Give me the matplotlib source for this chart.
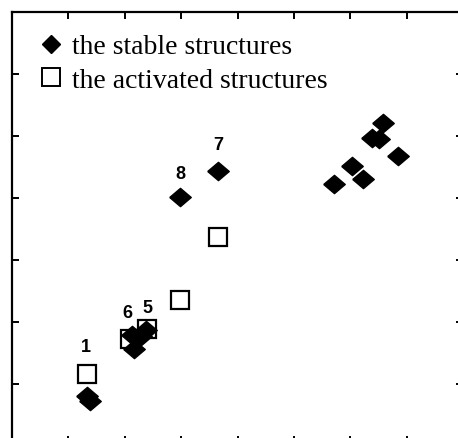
import matplotlib.pyplot as plt
from matplotlib.lines import Line2D

# stable structures (filled diamonds)
stable_x = [3.65, 2.98, 6.58, 6.38, 6.51, 6.84, 6.03, 6.22, 5.71, 1.33, 1.38, 2.13, 2.16, 2.38, 2.29]
stable_y = [5.44, 5.02, 6.21, 5.97, 5.95, 5.68, 5.52, 5.31, 5.23, 1.81, 1.73, 2.79, 2.56, 2.87, 2.77]

# activated structures (open squares)
act_x = [1.33, 2.09, 2.39, 2.98, 3.65]
act_y = [2.16, 2.73, 2.89, 3.35, 4.37]

# point labels
lab_text = ["1", "6", "5", "8", "7"]
lab_x = [1.31, 2.04, 2.41, 2.98, 3.65]
lab_y = [2.60, 3.16, 3.24, 5.39, 5.87]

fig = plt.figure(figsize=(4.58, 4.39), dpi=100)
W, H = 458.0, 439.0
# axes runs past the right and bottom edge of the picture (cropped chart)
ax = fig.add_axes([12 / W, (H - 444) / H, (463 - 12) / W, (444 - 13) / H])

diamond = [(-1, 0), (0, 0.85), (1, 0), (0, -0.85), (-1, 0)]
ax.plot(act_x, act_y, ls="", marker="s", ms=13, mfc="white", mec="black", mew=1.6, zorder=2)
ax.plot(stable_x, stable_y, ls="", marker=diamond, ms=15.5, color="black", zorder=3)

for t, x, y in zip(lab_text, lab_x, lab_y):
    ax.text(x, y, t, ha="center", va="center", fontsize=13, fontweight="bold",
            family="Liberation Sans")

ax.set_xlim(0, 8)
ax.set_ylim(1.05, 8)
ax.set_xticks([1, 2, 3, 4, 5, 6, 7])
ax.set_yticks([2, 3, 4, 5, 6, 7])
ax.tick_params(direction="in", length=5, width=1.4, top=True, right=True,
               labelbottom=False, labelleft=False)
for s in ax.spines.values():
    s.set_linewidth(1.6)

handles = [
    Line2D([], [], ls="", marker="D", ms=9.5, color="black"),
    Line2D([], [], ls="", marker="s", ms=13, mfc="white", mec="black", mew=1.4),
]
ax.legend(handles, ["the stable structures", "the activated structures"],
          loc="upper left", bbox_to_anchor=(0.038, 0.975), frameon=False,
          prop={"family": "Liberation Serif", "size": 20}, handlelength=0.8,
          handletextpad=0.35, labelspacing=0.3, borderaxespad=0)

fig.savefig("out.png", dpi=100)
